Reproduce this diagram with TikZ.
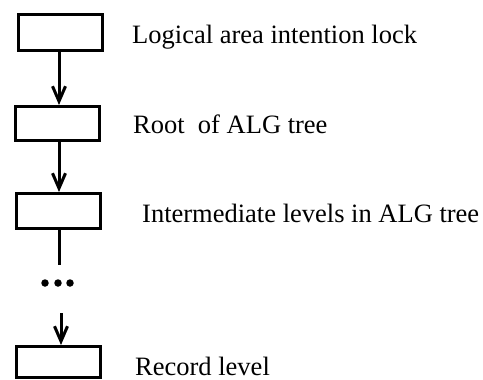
\documentclass[tikz,border=0pt]{standalone}
\usepackage{fontspec}
\setmainfont{Liberation Serif}
\usetikzlibrary{arrows.meta}
\begin{document}
\begin{tikzpicture}[x=1pt,y=-1pt,
  lw/.style={line width=3pt},
  boxnode/.style={draw,lw,rectangle,inner sep=0pt,minimum width=84pt},
  lbl/.style={anchor=base west,inner sep=0pt,font=\fontsize{26.5}{30}\selectfont},
  arr/.style={lw,-{Straight Barb[length=15pt,width=13pt,line width=3pt]}},
  dotn/.style={circle,fill,inner sep=0pt,minimum size=7.5pt}]
\useasboundingbox (0,0) rectangle (483,380);
\node[boxnode,minimum height=36pt] (b1) at (60,32.5) {};
\node[boxnode,minimum height=34pt] (b2) at (57,123.5) {};
\node[boxnode,minimum height=35pt] (b3) at (58.5,211) {};
\node[boxnode,minimum height=31pt] (b4) at (58.5,362) {};
\node[lbl] (t1) at (132,43) {Logical area intention lock};
\node[lbl] (t2) at (133,133) {Root\ \ of ALG tree};
\node[lbl] (t3) at (142,222) {Intermediate levels in ALG tree};
\node[lbl] (t4) at (135,375) {Record level};
\coordinate (a1) at (59,0);
\draw[arr] (b1.south -| a1) -- (b2.north -| a1);
\draw[arr] (b2.south -| a1) -- (b3.north -| a1);
\coordinate (c3) at (59,265);
\draw[lw] (b3.south -| c3) -- (c3);
\node[dotn] (d1) at (45,283) {};
\node[dotn] (d2) at (58,283) {};
\node[dotn] (d3) at (70,283) {};
\coordinate (s4) at (61,313);
\draw[arr] (s4) -- (b4.north -| s4);
\end{tikzpicture}
\end{document}
